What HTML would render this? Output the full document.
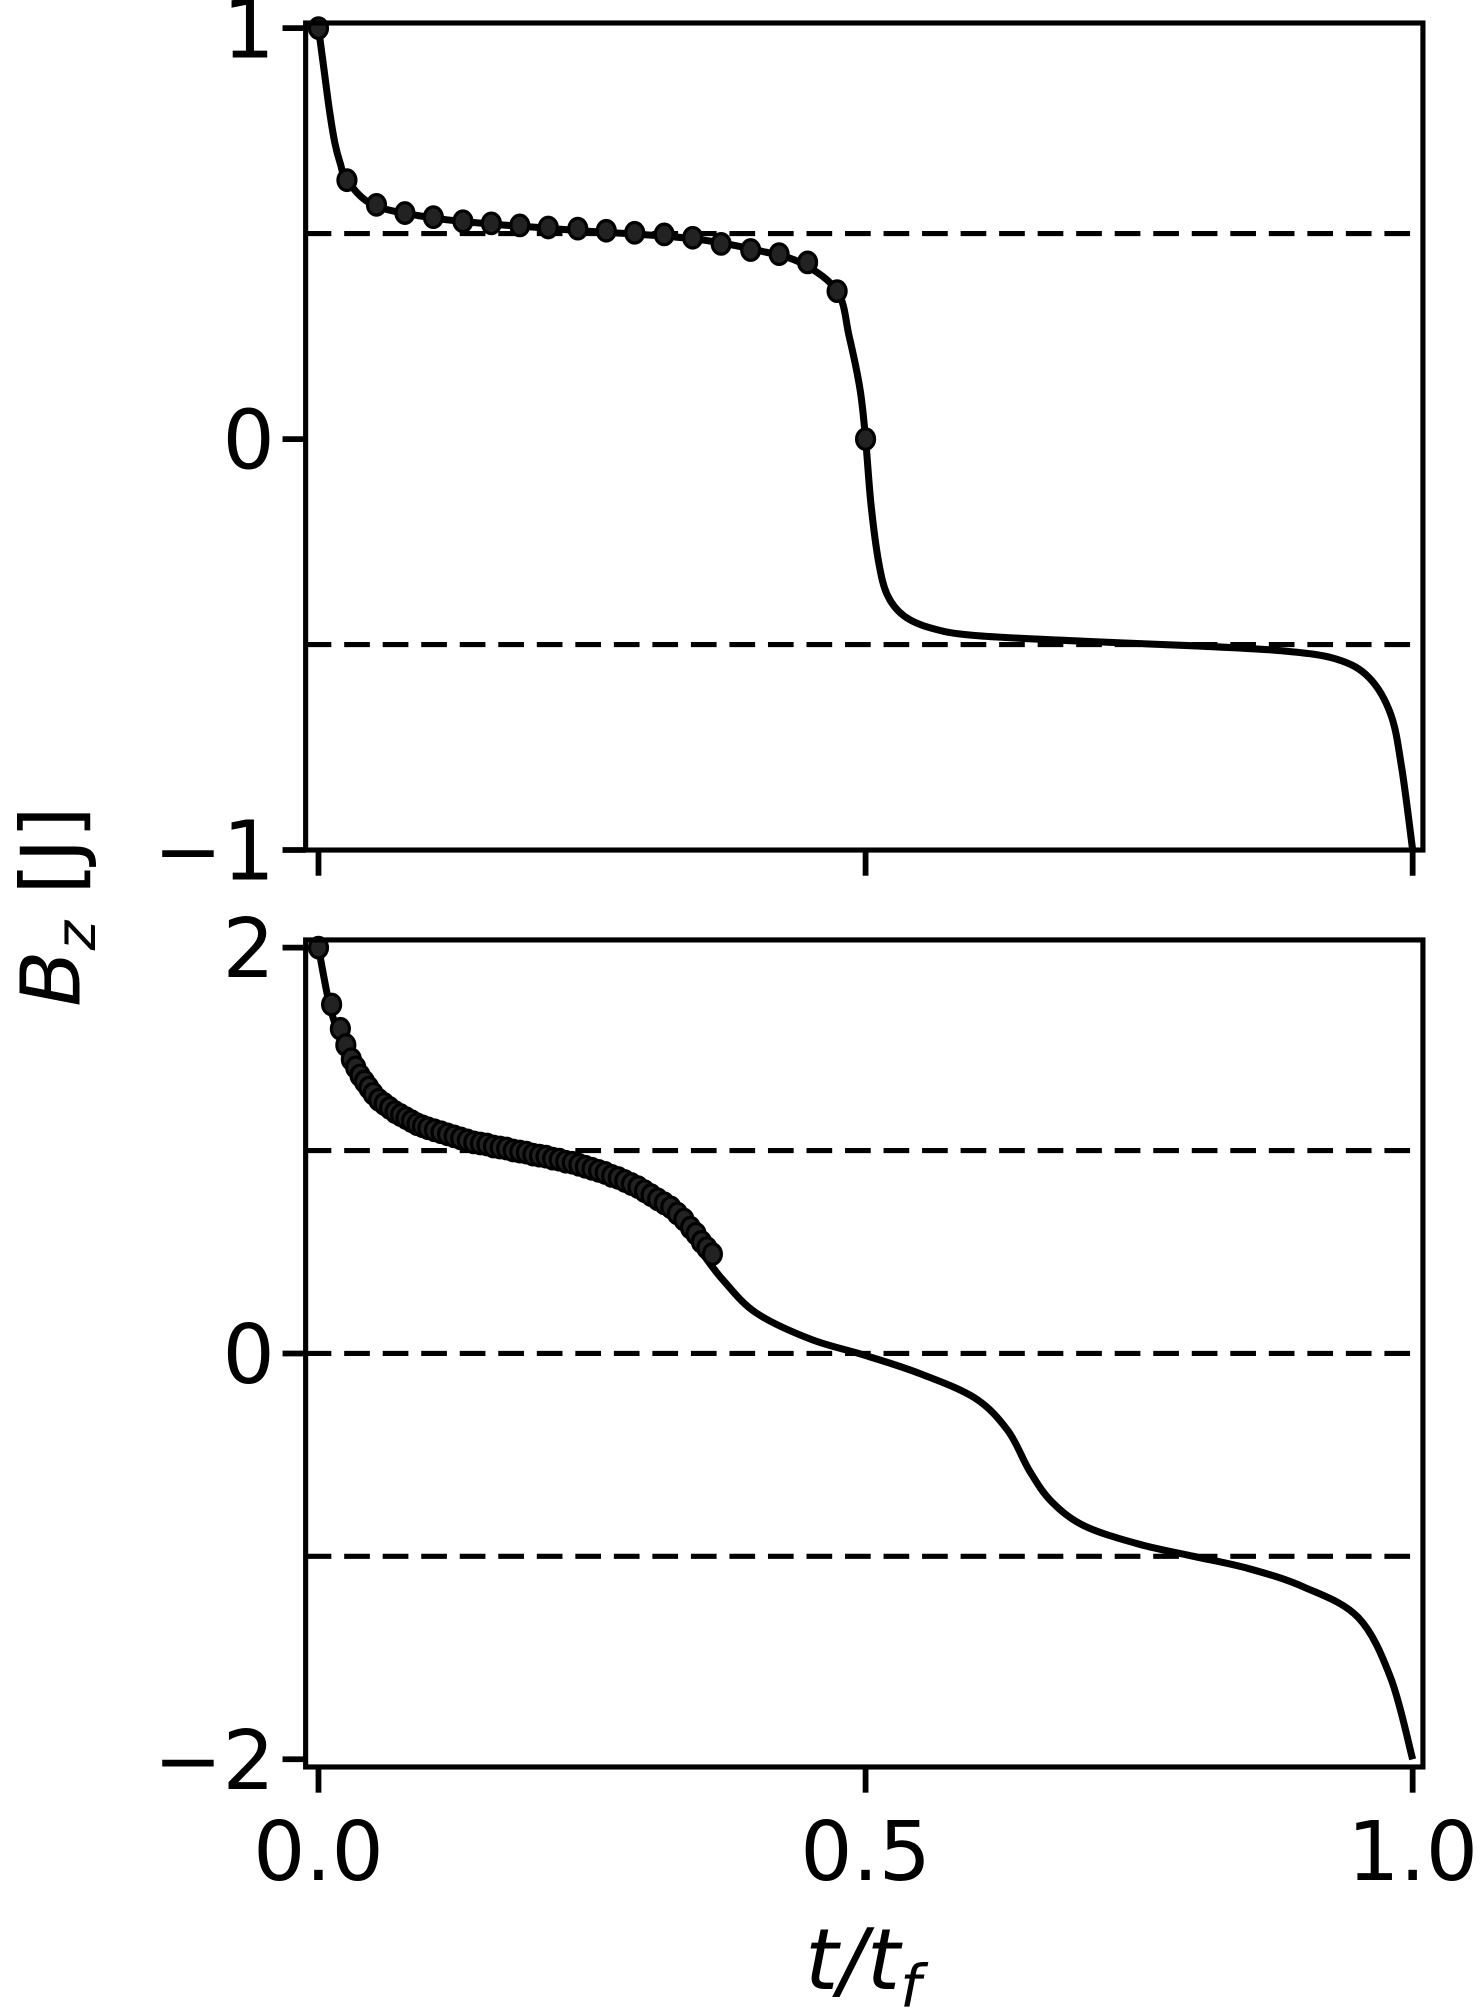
<!DOCTYPE html>
<html><head><meta charset="utf-8"><style>
html,body{margin:0;padding:0;background:#fff}
svg{display:block}
text{font-family:"DejaVu Sans","Liberation Sans",sans-serif;fill:#000}
</style></head><body>
<svg id="fig" width="1482" height="2016" viewBox="0 0 1154 1568" xmlns="http://www.w3.org/2000/svg">
<text transform="translate(62,705) rotate(-90)" text-anchor="middle" font-size="64"><tspan font-style="italic">B</tspan><tspan font-size="44" font-style="italic" dy="12">z</tspan><tspan dy="-12"> [J]</tspan></text>
<text x="672" y="1548" text-anchor="middle" font-size="66" font-style="italic">t/t<tspan font-size="46" dy="14">f</tspan></text>
<g id="top"></g>
<g id="bot"></g>
</svg>
<script>
// Top panel data
const topT = [0,0.005,0.01,0.015,0.02,0.026,0.05,0.1,0.15,0.2,0.25,0.3,0.35,0.4,0.44,0.474,0.485,0.495,0.5,0.505,0.512,0.52,0.535,0.56,0.6,0.7,0.8,0.88,0.93,0.96,0.98,0.99,1.0];
const topV = [1,0.9,0.8,0.72,0.67,0.63,0.57,0.54,0.525,0.515,0.505,0.497,0.485,0.46,0.43,0.36,0.25,0.12,0,-0.16,-0.3,-0.38,-0.43,-0.46,-0.478,-0.492,-0.503,-0.515,-0.535,-0.58,-0.67,-0.8,-1];
const topMT = [0,0.026,0.053,0.079,0.105,0.132,0.158,0.184,0.21,0.237,0.263,0.289,0.316,0.342,0.368,0.395,0.421,0.447,0.474,0.5];
const topMV = [1,0.63,0.57,0.55,0.54,0.53,0.525,0.52,0.515,0.512,0.507,0.502,0.498,0.49,0.475,0.46,0.45,0.43,0.36,0];
const topTicks = [-1,0,1];
const topRefs = [0.5,-0.5];
// Bottom panel data
const botT = [0,0.01,0.02,0.03,0.05,0.08,0.12,0.18,0.24,0.28,0.32,0.35,0.37,0.4,0.45,0.5,0.55,0.6,0.63,0.65,0.67,0.7,0.75,0.8,0.85,0.9,0.95,0.98,1.0];
const botV = [2,1.72,1.55,1.42,1.28,1.16,1.07,1.0,0.93,0.85,0.72,0.5,0.36,0.2,0.07,-0.01,-0.1,-0.22,-0.38,-0.58,-0.73,-0.85,-0.94,-1.0,-1.06,-1.15,-1.3,-1.6,-2];
const botMT = [0,0.012,0.02,0.025,0.03,0.034,0.038,0.042,0.046,0.05,0.055,0.06,0.065,0.07,0.075,0.08,0.085,0.09,0.095,0.1,0.106,0.112,0.118,0.124,0.13,0.136,0.142,0.148,0.154,0.16,0.166,0.172,0.178,0.184,0.19,0.196,0.202,0.208,0.214,0.22,0.226,0.232,0.238,0.244,0.25,0.256,0.262,0.268,0.274,0.28,0.286,0.292,0.298,0.304,0.31,0.316,0.322,0.328,0.334,0.34,0.345,0.35,0.355,0.36];
const botMV = [2,1.72,1.6,1.52,1.45,1.41,1.37,1.34,1.31,1.28,1.25,1.23,1.21,1.19,1.175,1.16,1.145,1.13,1.12,1.11,1.1,1.09,1.08,1.07,1.06,1.05,1.04,1.035,1.03,1.02,1.015,1.01,1.0,0.995,0.99,0.98,0.975,0.97,0.96,0.955,0.945,0.94,0.93,0.92,0.91,0.9,0.89,0.875,0.865,0.85,0.835,0.82,0.8,0.78,0.76,0.74,0.72,0.69,0.66,0.62,0.59,0.55,0.52,0.49];
const botTicks = [-2,0,2];
const botRefs = [1,0,-1];
const xTicks = [0,0.5,1.0];
const xTickLabels = ["0.0","0.5","1.0"];

const NS="http://www.w3.org/2000/svg";
function mk(parent,tag,attrs){const e=document.createElementNS(NS,tag);for(const k in attrs)e.setAttribute(k,attrs[k]);parent.appendChild(e);return e;}
const xS = t => 248 + t*852;
function smooth(pts){let d=`M${pts[0][0]},${pts[0][1]}`;for(let i=0;i<pts.length-1;i++){const p0=pts[Math.max(0,i-1)],p1=pts[i],p2=pts[i+1],p3=pts[Math.min(pts.length-1,i+2)];const c1=[p1[0]+(p2[0]-p0[0])/6,p1[1]+(p2[1]-p0[1])/6],c2=[p2[0]-(p3[0]-p1[0])/6,p2[1]-(p3[1]-p1[1])/6];d+=` C${c1[0]},${c1[1]} ${c2[0]},${c2[1]} ${p2[0]},${p2[1]}`;}return d;}
function panel(g,top,bot,y0,unit,T,V,MT,MV,ticks,refs,showXLabels,prefix){
  const yS = v => y0 - v*unit;
  refs.forEach(r=>{const l=mk(g,'line',{x1:238,x2:1108,y1:yS(r),y2:yS(r),stroke:'#000','stroke-width':4,'stroke-dasharray':'20,10'});
    
    });
  const p=mk(g,'path',{d:smooth(T.map((t,i)=>[xS(t),yS(V[i])])),fill:'none',stroke:'#000','stroke-width':5.5,'stroke-linejoin':'round'});
  
  
  MT.forEach((t,i)=>{const c=mk(g,'ellipse',{cx:xS(t),cy:yS(MV[i]),rx:7,ry:8,fill:'#222',stroke:'#000','stroke-width':2.5});
    
    });
  const f=mk(g,'rect',{x:238,y:top,width:870,height:bot-top,fill:'none',stroke:'#000','stroke-width':4});
  
  
  ticks.forEach(v=>{mk(g,'line',{x1:220,x2:238,y1:yS(v),y2:yS(v),stroke:'#000','stroke-width':4.5});
    const tx=mk(g,'text',{x:214,y:yS(v)+23,'text-anchor':'end','font-size':64});tx.textContent=(v<0?'\u2212':'')+Math.abs(v);
    
    });
  xTicks.forEach((t,i)=>{mk(g,'line',{x1:xS(t),x2:xS(t),y1:bot,y2:bot+20,stroke:'#000','stroke-width':4.5});
    if(showXLabels){const tx=mk(g,'text',{x:xS(t),y:bot+88,'text-anchor':'middle','font-size':64});tx.textContent=xTickLabels[i];
      
      }});
}
panel(document.getElementById('top'),17,661,341,320,topT,topV,topMT,topMV,topTicks,topRefs,false,'top');
panel(document.getElementById('bot'),731,1375,1053,158,botT,botV,botMT,botMV,botTicks,botRefs,true,'bottom');
</script>
</body></html>
